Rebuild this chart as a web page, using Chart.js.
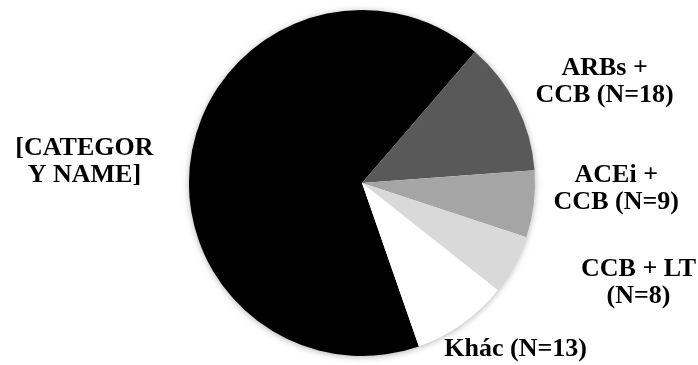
<!DOCTYPE html>
<html>
<head>
<meta charset="utf-8">
<script src="https://cdn.jsdelivr.net/npm/chart.js@4"></script>
<style>
  html, body { margin: 0; padding: 0; background: #ffffff; }
  #wrap { width: 698px; height: 365px; }
</style>
</head>
<body>
<div id="wrap"><canvas id="c" width="698" height="365"></canvas></div>
<script>
// Treatment groups (multi-line labels) and patient counts
const categories = [
  ['[CATEGOR', 'Y NAME]'],
  ['ARBs +', 'CCB (N=18)'],
  ['ACEi +', 'CCB (N=9)'],
  ['CCB + LT', '(N=8)'],
  ['Khác (N=13)']
];
const counts = [96, 18, 9, 8, 13];
const sliceColors = ['#000000', '#595959', '#a5a5a5', '#d9d9d9', '#ffffff'];

// Soft drop shadow around the whole pie, drawn once beneath the slices
const pieShadow = {
  id: 'pieShadow',
  beforeDatasetsDraw(chart) {
    const arc = chart.getDatasetMeta(0).data[0];
    if (!arc) return;
    const { x, y, outerRadius } = arc.getProps(['x', 'y', 'outerRadius'], true);
    const ctx = chart.ctx;
    ctx.save();
    ctx.shadowColor = 'rgba(0,0,0,0.35)';
    ctx.shadowBlur = 7;
    ctx.shadowOffsetY = 1;
    ctx.beginPath();
    ctx.arc(x, y, outerRadius - 0.5, 0, Math.PI * 2);
    ctx.fillStyle = '#ffffff';
    ctx.fill();
    ctx.restore();
  }
};

// Category labels placed around the pie (polar placement relative to the centre)
const outsideLabels = {
  id: 'outsideLabels',
  afterDatasetsDraw(chart, args, opts) {
    const meta = chart.getDatasetMeta(0);
    const ctx = chart.ctx;
    ctx.save();
    ctx.font = opts.font;
    ctx.fillStyle = opts.color;
    ctx.textAlign = 'center';
    ctx.textBaseline = 'middle';
    meta.data.forEach((arc, i) => {
      const { x, y, outerRadius } = arc.getProps(['x', 'y', 'outerRadius'], true);
      const a = (opts.angles[i] - 90) * Math.PI / 180;
      const d = opts.distances[i] * outerRadius;
      const cx = x + Math.cos(a) * d;
      const cy = y + Math.sin(a) * d;
      const lines = chart.data.labels[i];
      lines.forEach((t, j) => {
        ctx.fillText(t, cx, cy + (j - (lines.length - 1) / 2) * opts.lineHeight);
      });
    });
    ctx.restore();
  }
};

new Chart(document.getElementById('c'), {
  type: 'pie',
  data: {
    labels: categories,
    datasets: [{
      data: counts,
      backgroundColor: sliceColors,
      borderWidth: 0,
      clip: false
    }]
  },
  options: {
    responsive: false,
    devicePixelRatio: 1,
    animation: false,
    rotation: 160.8,
    layout: { padding: { left: 189, right: 163, top: 10, bottom: 9 } },
    plugins: {
      legend: { display: false },
      tooltip: { enabled: false },
      outsideLabels: {
        font: 'bold 26px "Liberation Serif", "Times New Roman", serif',
        color: '#000000',
        lineHeight: 27,
        angles: [274.3, 67.4, 91.4, 109.8, 137.3],
        distances: [1.609, 1.519, 1.470, 1.699, 1.309]
      }
    }
  },
  plugins: [pieShadow, outsideLabels]
});
</script>
</body>
</html>
